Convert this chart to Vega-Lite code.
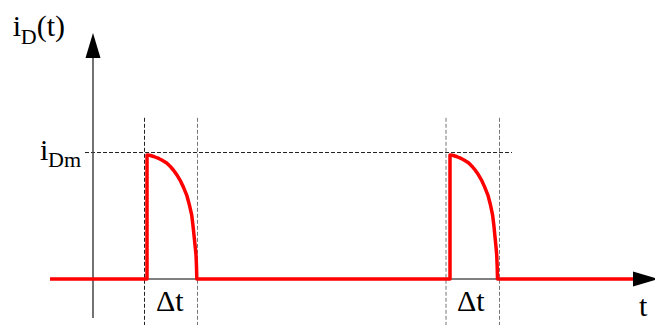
{
  "$schema": "https://vega.github.io/schema/vega-lite/v6.json",
  "width": 655,
  "height": 325,
  "autosize": {"type": "none"},
  "padding": 0,
  "background": "white",
  "config": {"view": {"stroke": null}},
  "datasets": {
    "wave": [
      {"k": 1, "t": -4.3, "i": 0},
      {"k": 2, "t": 5.4, "i": 0},
      {"k": 3, "t": 5.4, "i": 1.0},
      {"k": 4, "t": 5.65, "i": 0.998},
      {"k": 5, "t": 5.9, "i": 0.992},
      {"k": 6, "t": 6.15, "i": 0.986},
      {"k": 7, "t": 6.37, "i": 0.978},
      {"k": 8, "t": 6.62, "i": 0.97},
      {"k": 9, "t": 6.87, "i": 0.96},
      {"k": 10, "t": 7.12, "i": 0.948},
      {"k": 11, "t": 7.37, "i": 0.935},
      {"k": 12, "t": 7.7, "i": 0.91},
      {"k": 13, "t": 8.03, "i": 0.879},
      {"k": 14, "t": 8.37, "i": 0.842},
      {"k": 15, "t": 8.7, "i": 0.798},
      {"k": 16, "t": 9.03, "i": 0.743},
      {"k": 17, "t": 9.37, "i": 0.677},
      {"k": 18, "t": 9.62, "i": 0.603},
      {"k": 19, "t": 9.87, "i": 0.516},
      {"k": 20, "t": 10.0, "i": 0.43},
      {"k": 21, "t": 10.13, "i": 0.331},
      {"k": 22, "t": 10.22, "i": 0.26},
      {"k": 23, "t": 10.3, "i": 0.194},
      {"k": 24, "t": 10.35, "i": 0.1},
      {"k": 25, "t": 10.38, "i": 0},
      {"k": 26, "t": 35.7, "i": 0},
      {"k": 27, "t": 35.7, "i": 1.0},
      {"k": 28, "t": 35.94, "i": 0.998},
      {"k": 29, "t": 36.18, "i": 0.992},
      {"k": 30, "t": 36.42, "i": 0.986},
      {"k": 31, "t": 36.63, "i": 0.978},
      {"k": 32, "t": 36.86, "i": 0.97},
      {"k": 33, "t": 37.1, "i": 0.96},
      {"k": 34, "t": 37.34, "i": 0.948},
      {"k": 35, "t": 37.58, "i": 0.935},
      {"k": 36, "t": 37.89, "i": 0.91},
      {"k": 37, "t": 38.21, "i": 0.879},
      {"k": 38, "t": 38.53, "i": 0.842},
      {"k": 39, "t": 38.85, "i": 0.798},
      {"k": 40, "t": 39.16, "i": 0.743},
      {"k": 41, "t": 39.49, "i": 0.677},
      {"k": 42, "t": 39.73, "i": 0.603},
      {"k": 43, "t": 39.96, "i": 0.516},
      {"k": 44, "t": 40.09, "i": 0.43},
      {"k": 45, "t": 40.21, "i": 0.331},
      {"k": 46, "t": 40.3, "i": 0.26},
      {"k": 47, "t": 40.37, "i": 0.194},
      {"k": 48, "t": 40.42, "i": 0.1},
      {"k": 49, "t": 40.45, "i": 0},
      {"k": 50, "t": 54.0, "i": 0}
    ],
    "guidesDark": [
      {"t": 5.15, "t2": 5.15, "i": 1.3, "i2": -0.4},
      {"t": -0.8, "t2": 41.9, "i": 1.02, "i2": 1.02}
    ],
    "guidesGrey": [
      {"t": 10.45, "t2": 10.45, "i": 1.3, "i2": -0.4},
      {"t": 35.3, "t2": 35.3, "i": 1.3, "i2": -0.4},
      {"t": 40.65, "t2": 40.65, "i": 1.3, "i2": -0.4}
    ],
    "xAxis": [{"t": -4.3, "t2": 54.0, "i": 0, "i2": 0}],
    "yAxis": [{"t": 0, "t2": 0, "i": -0.315, "i2": 1.79}],
    "yHead": [{"t": 0, "i": 1.883}],
    "xHead": [{"t": 55.25, "i": 0}],
    "bigText": [
      {"label": "i", "t": -8.03, "i": 1.96},
      {"label": "(t)", "t": -5.63, "i": 1.96},
      {"label": "i", "t": -5.3, "i": 0.96},
      {"label": "Δt", "t": 6.3, "i": -0.258},
      {"label": "Δt", "t": 36.4, "i": -0.258},
      {"label": "t", "t": 54.6, "i": -0.3}
    ],
    "subText": [
      {"label": "D", "t": -7.23, "i": 1.899},
      {"label": "Dm", "t": -4.5, "i": 0.9}
    ]
  },
  "encoding": {
    "x": {"field": "t", "type": "quantitative", "scale": {"domain": [-9.3, 56.2], "nice": false, "zero": false}, "axis": null},
    "y": {"field": "i", "type": "quantitative", "scale": {"domain": [-0.371, 2.25], "nice": false, "zero": false}, "axis": null}
  },
  "layer": [
    {
      "data": {"name": "guidesDark"},
      "mark": {"type": "rule", "strokeDash": [4, 2], "strokeWidth": 1, "color": "#222222"},
      "encoding": {"x2": {"field": "t2"}, "y2": {"field": "i2"}}
    },
    {
      "data": {"name": "guidesGrey"},
      "mark": {"type": "rule", "strokeDash": [4, 2], "strokeWidth": 1, "color": "#777777"},
      "encoding": {"x2": {"field": "t2"}, "y2": {"field": "i2"}}
    },
    {
      "data": {"name": "yAxis"},
      "mark": {"type": "rule", "strokeWidth": 1.5, "color": "#444444"},
      "encoding": {"x2": {"field": "t2"}, "y2": {"field": "i2"}}
    },
    {
      "data": {"name": "xAxis"},
      "mark": {"type": "rule", "strokeWidth": 2, "color": "#808080"},
      "encoding": {"x2": {"field": "t2"}, "y2": {"field": "i2"}}
    },
    {
      "data": {"name": "wave"},
      "mark": {"type": "line", "color": "#ff0000", "strokeWidth": 3.5, "strokeJoin": "round"},
      "encoding": {"order": {"field": "k", "type": "quantitative"}}
    },
    {
      "data": {"name": "yHead"},
      "mark": {"type": "point", "shape": "M0,-1L0.6,1L-0.6,1Z", "size": 625, "filled": true, "color": "#000000", "opacity": 1},
      "encoding": {}
    },
    {
      "data": {"name": "xHead"},
      "mark": {"type": "point", "shape": "M1,0L-1,-0.6L-1,0.6Z", "size": 625, "filled": true, "color": "#000000", "opacity": 1},
      "encoding": {}
    },
    {
      "data": {"name": "bigText"},
      "mark": {"type": "text", "font": "Liberation Serif", "fontSize": 30, "align": "left", "baseline": "alphabetic", "color": "#000000"},
      "encoding": {"text": {"field": "label"}}
    },
    {
      "data": {"name": "subText"},
      "mark": {"type": "text", "font": "Liberation Serif", "fontSize": 22, "align": "left", "baseline": "alphabetic", "color": "#000000"},
      "encoding": {"text": {"field": "label"}}
    }
  ]
}
